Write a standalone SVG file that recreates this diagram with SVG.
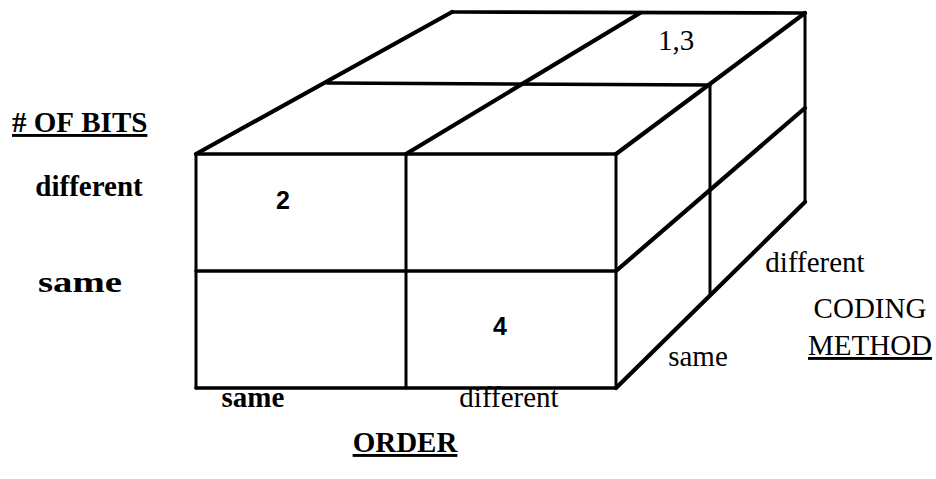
<svg xmlns="http://www.w3.org/2000/svg" width="936" height="479" viewBox="0 0 936 479">
<style>
.ln{stroke:#000;fill:none;stroke-linecap:round;stroke-linejoin:round}
.d{stroke-width:4.2}
.h{stroke-width:3.6}
.v{stroke-width:3}
.t{font-family:"Liberation Serif","Times New Roman",serif;fill:#000;font-size:29px}
.n{font-family:"Liberation Sans",Arial,sans-serif;font-weight:bold;fill:#000;font-size:25px}
.u{text-decoration:underline}
</style>
<rect width="936" height="479" fill="#fff"/>
<g id="box">
  <path class="ln d" d="M196,154 L452,12 M406,154 L640,13 M616,154 L805,13"/>
  <path class="ln h" d="M452,12 L805,13 M327,83 L710,85"/>
  <path class="ln h" d="M196,154 L616,154 M196,271 L616,271 M196,388 L616,388"/>
  <path class="ln v" d="M196,154 L196,388 M406,154 L406,388 M616,154 L616,388"/>
  <path class="ln v" d="M710,85 L710,295 M805,13 L805,202"/>
  <path class="ln d" d="M616,271 L805,108 M616,388 L805,202"/>
</g>
<g id="cells">
  <text class="n" x="283" y="209" text-anchor="middle">2</text>
  <text class="n" x="500" y="335" text-anchor="middle">4</text>
  <text class="t" x="676" y="50" text-anchor="middle" font-size="27">1,3</text>
</g>
<g id="axis-bits">
  <text class="t u" x="12" y="132" font-weight="bold" font-size="27">#&#160;OF&#160;BITS</text>
  <text class="t" x="89" y="196" text-anchor="middle" font-weight="bold">different</text>
  <text class="t" x="38" y="292" font-weight="bold" font-size="31" textLength="84" lengthAdjust="spacingAndGlyphs">same</text>
</g>
<g id="axis-order">
  <text class="t" x="253" y="407" text-anchor="middle" font-weight="bold">same</text>
  <text class="t" x="509" y="407" text-anchor="middle">different</text>
  <text class="t u" x="405" y="452" text-anchor="middle" font-weight="bold" font-size="27">ORDER</text>
</g>
<g id="axis-coding">
  <text class="t" x="698" y="366" text-anchor="middle">same</text>
  <text class="t" x="815" y="272" text-anchor="middle">different</text>
  <text class="t" x="870" y="318" text-anchor="middle">CODING</text>
  <text class="t u" x="870" y="355" text-anchor="middle">METHOD</text>
</g>
</svg>
